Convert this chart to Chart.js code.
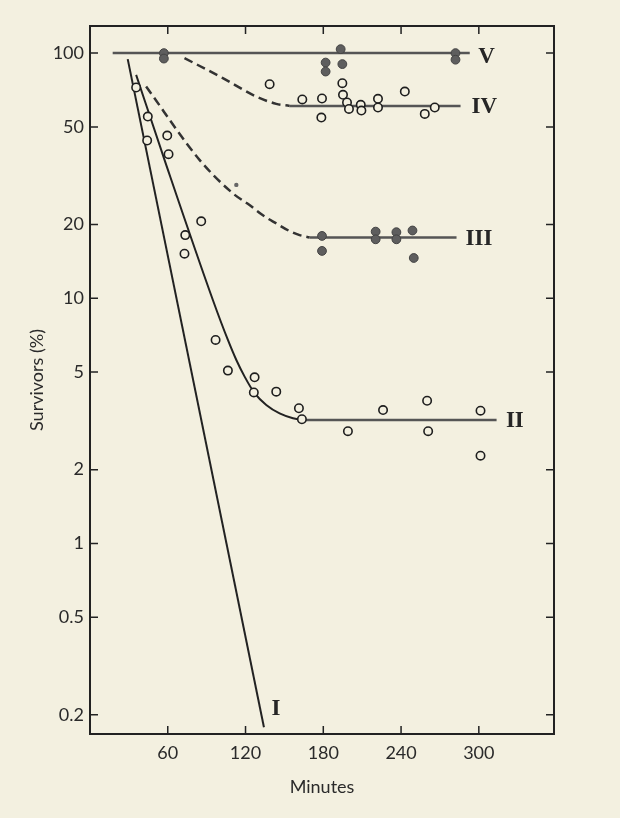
<!DOCTYPE html>
<html>
<head>
<meta charset="utf-8">
<script src="https://cdn.jsdelivr.net/npm/chart.js@4.4.1/dist/chart.umd.min.js"></script>
<style>
  html, body { margin: 0; padding: 0; background: #f3f0e0; }
  #wrap { width: 620px; height: 818px; position: relative; }
</style>
</head>
<body>
<div id="wrap"><canvas id="survival-chart"></canvas></div>
<script>
// axes
const xTicks = [60, 120, 180, 240, 300];
const yTicks = [100, 50, 20, 10, 5, 2, 1, 0.5, 0.2];

// fitted curves [minutes, survivors %]
const lineI = [[29.1, 94.5], [134.2, 0.178]];
const lineII = [[35.6, 81.5], [57.5, 36.7], [94.8, 9.84], [106.4, 6.76], [112.9, 5.6], [119.3, 4.79], [127, 4.1], [136, 3.67], [146.3, 3.39], [156.6, 3.24], [163.5, 3.19]];
const lineIIflat = [[163.5, 3.19], [313.7, 3.19]];
const lineIIIdash = [[43.3, 73.1], [84.5, 36.7], [110.2, 26.8], [123.1, 24.0], [133.4, 21.8], [143.7, 20.2], [154, 18.8], [161.7, 18.1], [169.4, 17.7]];
const lineIIIflat = [[169.4, 17.7], [282.8, 17.7]];
const lineIVdash = [[72.9, 95.4], [102.5, 79.1], [128.3, 66.5], [143.7, 62.1], [154, 60.9]];
const lineIVflat = [[154, 60.9], [285.9, 60.9]];
const lineV = [[17.5, 100], [293, 100]];

// observations
const openPoints = [
  [35.6, 72.4], [44.6, 55.1], [44.1, 44.0], [59.6, 46.1], [60.6, 38.7],
  [85.8, 20.6], [73.5, 18.1], [72.9, 15.2], [96.9, 6.76], [106.4, 5.07],
  [127, 4.76], [126.4, 4.13], [143.7, 4.16], [161.2, 3.56], [163.5, 3.21],
  [199, 2.87], [226.1, 3.5], [260.1, 3.82], [260.9, 2.87], [301.3, 3.48], [301.3, 2.28],
  [138.6, 74.7], [163.8, 64.7], [179, 65.3], [178.5, 54.6], [194.7, 75.4],
  [195.2, 67.6], [198.3, 62.9], [199.8, 59.2], [208.9, 61.5], [209.4, 58.3],
  [222.2, 65.1], [222.2, 60.0], [242.9, 69.7], [258.3, 56.5], [266, 60.0]
];
const filledPoints = [
  [57, 100], [57, 95], [181.8, 91.5], [181.8, 84.1], [193.4, 103.8], [194.7, 90.2], [282, 100], [282, 94],
  [179, 17.96], [179, 15.6], [220.4, 18.7], [220.4, 17.4], [236.4, 18.6], [236.4, 17.4], [248.8, 18.9], [249.8, 14.6]
];
const smallPoints = [[112.9, 29]];

// curve labels
const curveNames = ['V', 'IV', 'III', 'II', 'I'];
const curveNameX = [299.5, 294.4, 289.7, 320.9, 140.1];
const curveNameY = [96.8, 60.2, 17.5, 3.17, 0.212];

const paper = '#f3f0e0';
const ink = '#222';
const xy = arr => arr.map(p => ({ x: p[0], y: p[1] }));

function curve(data, opts) {
    return Object.assign({
        type: 'line',
        data: xy(data),
        borderColor: ink,
        borderWidth: 2,
        pointRadius: 0,
        fill: false,
        order: 2
    }, opts);
}

const paperBg = {
    id: 'paperBg',
    beforeDraw(chart) {
        const c = chart.ctx;
        c.save();
        c.fillStyle = paper;
        c.fillRect(0, 0, chart.width, chart.height);
        c.restore();
    }
};

// frame with inward ticks on all four sides + roman numerals
const frame = {
    id: 'frame',
    afterDraw(chart) {
        const c = chart.ctx;
        const a = chart.chartArea;
        const sx = chart.scales.x, sy = chart.scales.y;
        c.save();
        c.strokeStyle = ink;
        c.lineWidth = 2;
        c.strokeRect(a.left, a.top, a.right - a.left, a.bottom - a.top);
        c.lineWidth = 1.5;
        c.beginPath();
        xTicks.forEach(v => {
            const px = sx.getPixelForValue(v);
            c.moveTo(px, a.bottom); c.lineTo(px, a.bottom - 8);
            c.moveTo(px, a.top); c.lineTo(px, a.top + 8);
        });
        yTicks.forEach(v => {
            const py = sy.getPixelForValue(v);
            c.moveTo(a.left, py); c.lineTo(a.left + 8, py);
            c.moveTo(a.right, py); c.lineTo(a.right - 8, py);
        });
        c.stroke();

        c.fillStyle = '#262626';
        c.font = 'bold 23px "Liberation Serif", "DejaVu Serif", serif';
        c.textAlign = 'left';
        c.textBaseline = 'middle';
        curveNames.forEach((t, i) => {
            c.fillText(t, sx.getPixelForValue(curveNameX[i]), sy.getPixelForValue(curveNameY[i]));
        });
        c.restore();
    }
};

const tickFont = { family: 'Lato, "DejaVu Sans", sans-serif', size: 18 };

new Chart(document.getElementById('survival-chart').getContext('2d'), {
    type: 'scatter',
    data: {
        datasets: [
            curve(lineI),
            curve(lineII, { cubicInterpolationMode: 'monotone' }),
            curve(lineIIflat, { borderColor: '#555', borderWidth: 2.5 }),
            curve(lineIIIdash, { borderDash: [9, 5], borderWidth: 2.5, borderColor: '#333', cubicInterpolationMode: 'monotone' }),
            curve(lineIIIflat, { borderColor: '#555', borderWidth: 2.5 }),
            curve(lineIVdash, { borderDash: [9, 5], borderWidth: 2.5, borderColor: '#333', cubicInterpolationMode: 'monotone' }),
            curve(lineIVflat, { borderColor: '#555', borderWidth: 2.5 }),
            curve(lineV, { borderColor: '#555', borderWidth: 2.5 }),
            {
                data: xy(openPoints),
                pointRadius: 4.2,
                pointBorderWidth: 1.6,
                pointBorderColor: '#1e1e1e',
                pointBackgroundColor: paper,
                order: 0
            },
            {
                data: xy(filledPoints),
                pointRadius: 4.4,
                pointBorderWidth: 1,
                pointBorderColor: '#444',
                pointBackgroundColor: '#5e5e5e',
                order: 0
            },
            {
                data: xy(smallPoints),
                pointRadius: 2.2,
                pointBorderWidth: 0,
                pointBackgroundColor: '#666',
                order: 0
            }
        ]
    },
    options: {
        responsive: true,
        maintainAspectRatio: false,
        animation: false,
        layout: { padding: { left: 0, right: 66, top: 26, bottom: 0 } },
        plugins: {
            legend: { display: false },
            tooltip: { enabled: false }
        },
        scales: {
            x: {
                type: 'linear',
                min: 0,
                max: 358,
                afterBuildTicks: axis => { axis.ticks = xTicks.map(v => ({ value: v })); },
                afterFit: axis => { axis.height = 84; },
                grid: { display: false, drawTicks: false },
                border: { display: false },
                ticks: { font: tickFont, color: '#2a2a2a', padding: 8, maxRotation: 0 },
                title: {
                    display: true,
                    text: 'Minutes',
                    font: tickFont,
                    color: '#2a2a2a',
                    padding: { top: 0, bottom: 20 }
                }
            },
            y: {
                type: 'logarithmic',
                min: 0.167,
                max: 129,
                afterBuildTicks: axis => { axis.ticks = yTicks.map(v => ({ value: v })); },
                afterFit: axis => { axis.width = 90; },
                grid: { display: false, drawTicks: false },
                border: { display: false },
                ticks: { font: tickFont, color: '#2a2a2a', padding: 6, callback: v => String(v) },
                title: {
                    display: true,
                    text: 'Survivors (%)',
                    font: { family: 'Lato, "DejaVu Sans", sans-serif', size: 18 },
                    color: '#2a2a2a',
                    padding: { top: 26, bottom: 0 }
                }
            }
        }
    },
    plugins: [paperBg, frame]
});
</script>
</body>
</html>
